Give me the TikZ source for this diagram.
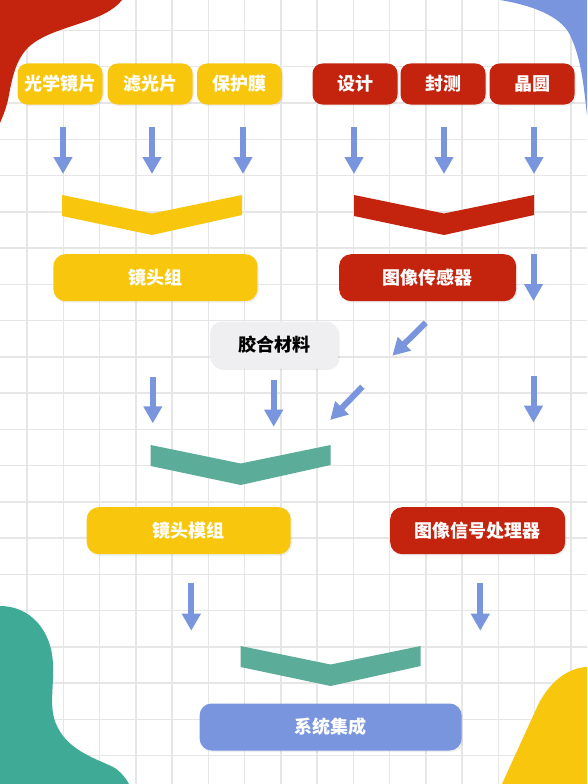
\documentclass[tikz,border=0pt]{standalone}
\usepackage{fontspec}
\newfontfamily\cjk{Noto Sans CJK SC}
\usetikzlibrary{arrows.meta,shadows}
\definecolor{cyellow}{HTML}{F8C70D}
\definecolor{cred}{HTML}{C4230E}
\definecolor{cblue}{HTML}{7895DD}
\definecolor{cteal}{HTML}{5BAD99}
\definecolor{cblob}{HTML}{3FAA96}
\definecolor{cgray}{HTML}{EFEFF1}
\definecolor{cgrid}{HTML}{E6E6E6}
% chevron: middle x, top y, colour
\newcommand{\chevr}[3]{\fill[#3] (#1-90,#2) -- (#1,#2+18.5) -- (#1+90,#2) -- (#1+90,#2+20) -- (#1,#2+40) -- (#1-90,#2+21) -- cycle;}
\tikzset{
  box/.style={rounded corners=10pt, inner sep=0pt, text=white,
    font=\cjk\bfseries\fontsize{18}{20}\selectfont,
    drop shadow={opacity=0.12, shadow xshift=1.5pt, shadow yshift=-1.5pt}},
  smallbox/.style={box, minimum width=85pt, minimum height=41pt},
  widebox/.style={box, rounded corners=12pt, minimum height=47pt},
  arr/.style={cblue, line width=6pt, -{Triangle[width=18pt,length=17pt]}},
  gridline/.style={cgrid, line width=1.5pt},
}
\begin{document}
\begin{tikzpicture}[x=1pt, y=-1pt]
    \useasboundingbox (0,0) rectangle (587,784);
    \fill[white] (0,0) rectangle (587,784);
    % grid
    \foreach \i in {0,...,15} \draw[gridline] (27+36.25*\i,0) -- (27+36.25*\i,784);
    \foreach \j in {0,...,20} \draw[gridline] (0,30.5+36.25*\j) -- (587,30.5+36.25*\j);
    % corner blobs
    \fill[cred] (0,0) -- (122,0) .. controls (105,22) and (60,25) .. (35,42)
        .. controls (15,55) and (12,80) .. (8,100) .. controls (5,112) and (2,118) .. (0,123) -- cycle;
    \fill[cblue] (500,0) .. controls (530,5) and (560,15) .. (570,35)
        .. controls (582,60) and (584,90) .. (587,115) -- (587,0) -- cycle;
    \fill[cblob] (0,606) .. controls (30,606) and (52,630) .. (53,665)
        .. controls (54,690) and (48,710) .. (58,728) .. controls (70,752) and (100,760) .. (115,768)
        .. controls (122,773) and (127,780) .. (129,784) -- (0,784) -- cycle;
    \fill[cyellow] (587,667) .. controls (565,668) and (548,685) .. (538,705) -- (502,784) -- (587,784) -- cycle;
    % chevrons
    \chevr{152}{195}{cyellow}
    \chevr{444}{195}{cred}
    \chevr{240.7}{445}{cteal}
    \chevr{330.6}{646}{cteal}
    % top row arrows
    \foreach \x [count=\i] in {63,152,243,354,444,534} {
        \coordinate (top\i) at (\x,127);
        \coordinate (tip\i) at (\x,174);
        \draw[arr] (top\i) -- (tip\i);
    }
    % middle arrows
    \coordinate (s1) at (533.5,254);   \coordinate (e1) at (533.5,301);
    \coordinate (s2) at (425.7,322.7); \coordinate (e2) at (392.4,355.7);
    \coordinate (s3) at (362.4,386.7); \coordinate (e3) at (330.2,420);
    \coordinate (s4) at (152.8,377);   \coordinate (e4) at (152.8,423.3);
    \coordinate (s5) at (273.7,380);   \coordinate (e5) at (273.7,426.7);
    \coordinate (s6) at (533.5,376);   \coordinate (e6) at (533.5,422.7);
    \coordinate (s7) at (191.3,582.7); \coordinate (e7) at (191.3,630.7);
    \coordinate (s8) at (480.3,582.7); \coordinate (e8) at (480.3,630.7);
    \foreach \k in {1,...,8} \draw[arr] (s\k) -- (e\k);
    % nodes
    \node[smallbox, fill=cyellow] (lens) at (60,84) {光学镜片};
    \node[smallbox, fill=cyellow] (filter) at (150,84) {滤光片};
    \node[smallbox, fill=cyellow] (film) at (239.5,84) {保护膜};
    \node[smallbox, fill=cred] (design) at (355,84) {设计};
    \node[smallbox, fill=cred] (pack) at (443,84) {封测};
    \node[smallbox, fill=cred] (wafer) at (532,84) {晶圆};
    \node[widebox, fill=cyellow, minimum width=204pt] (lensgroup) at (155.4,277.7) {镜头组};
    \node[widebox, fill=cred, minimum width=177pt] (sensor) at (427.6,277.7) {图像传感器};
    \node[widebox, fill=cgray, text=black, minimum width=128pt] (glue) at (274,345) {胶合材料};
    \node[widebox, fill=cyellow, minimum width=204pt] (module) at (188.7,530.7) {镜头模组};
    \node[widebox, fill=cred, minimum width=175pt] (isp) at (477.7,530.7) {图像信号处理器};
    \node[widebox, fill=cblue, minimum width=262pt] (system) at (330.6,727) {系统集成};
\end{tikzpicture}
\end{document}
